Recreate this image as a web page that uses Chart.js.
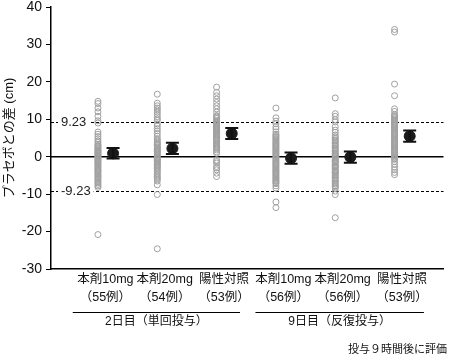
<!DOCTYPE html>
<html>
<head>
<meta charset="utf-8">
<script src="https://cdn.jsdelivr.net/npm/chart.js@4/dist/chart.umd.min.js"></script>
<style>
html,body{margin:0;padding:0;background:#fff;}
#wrap{width:450px;height:356px;position:relative;}
</style>
</head>
<body>
<div id="wrap"><canvas id="c"></canvas></div>
<script>
// ---- data ----
const categories = ['本剤10mg','本剤20mg','陽性対照','本剤10mg','本剤20mg','陽性対照'];
const counts = ['（55例）','（54例）','（53例）','（56例）','（56例）','（53例）'];
const groupLabels = ['2日目（単回投与）','9日目（反復投与）'];
const groupStart = [0.45, 3.53];
const groupEnd = [3.27, 6.37];
const footnote = '投与９時間後に評価';
const yTicks = [-30,-20,-10,0,10,20,30,40];
const refLines = [9.23, -9.23];
const refLabels = ['9.23', '-9.23'];

const g1 = [14.8,14.2,13.0,12.0,10.8,9.6,9.0,6.6,6.0,5.4,4.8,4.2,3.8,3.3,3.0,2.7,2.4,2.1,1.8,1.6,1.5,1.2,1.0,0.8,0.5,0.3,0.2,0.0,-0.2,-0.5,-0.8,-1.0,-1.3,-1.6,-1.9,-2.2,-2.5,-2.8,-3.1,-3.4,-3.7,-4.0,-4.3,-4.6,-5.0,-5.3,-5.6,-6.0,-6.3,-6.7,-7.0,-7.4,-7.8,-8.2,-20.8];
const g2 = [16.7,14.3,13.6,13.0,12.5,11.9,11.3,10.7,10.1,9.7,8.8,8.2,7.5,6.9,6.2,5.5,4.8,4.4,3.9,3.6,3.3,3.0,2.6,2.3,2.0,1.7,1.5,1.3,1.0,0.7,0.4,0.0,-0.3,-0.5,-0.7,-1.0,-1.3,-1.7,-2.0,-2.2,-2.5,-2.8,-3.1,-3.5,-3.9,-4.4,-4.8,-5.3,-5.6,-6.0,-6.5,-7.5,-10.1,-24.6];
const g3 = [18.6,17.2,16.3,15.4,14.5,13.6,12.8,11.9,11.0,10.8,10.4,10.2,9.7,9.4,9.2,9.0,8.7,8.4,8.1,7.9,7.7,7.4,7.2,7.0,6.8,6.5,6.3,6.0,5.9,5.7,5.4,5.1,4.9,4.7,4.4,4.1,3.7,3.4,3.1,2.8,2.5,2.2,1.8,1.3,0.9,-0.9,-1.3,-1.7,-2.6,-3.0,-3.5,-4.4,-5.3];
const g4 = [13.0,10.4,9.5,8.8,8.0,7.4,6.6,6.0,5.7,5.4,5.1,4.8,4.5,4.2,3.9,3.6,3.3,3.0,2.7,2.4,2.1,1.8,1.5,1.2,0.9,0.6,0.3,0.0,-0.3,-0.6,-0.9,-1.2,-1.5,-1.8,-2.1,-2.4,-2.7,-3.0,-3.3,-3.6,-3.9,-4.2,-4.5,-4.8,-5.1,-5.4,-5.7,-6.0,-6.3,-6.6,-6.9,-7.2,-7.8,-8.4,-12.1,-13.6];
const g5 = [15.7,11.5,10.8,9.9,9.3,8.0,7.1,6.5,5.8,5.3,4.9,4.5,4.2,3.8,3.5,3.1,2.8,2.4,2.1,1.7,1.4,1.0,0.7,0.5,0.3,0.0,-0.3,-0.7,-1.0,-1.2,-1.4,-1.7,-2.1,-2.4,-2.6,-2.8,-3.1,-3.5,-3.8,-4.0,-4.2,-4.5,-4.9,-5.2,-5.6,-5.9,-6.3,-6.6,-7.0,-7.3,-7.7,-8.0,-8.4,-9.2,-10.1,-16.3];
const g6 = [34.0,33.3,19.4,16.3,12.8,12.1,11.3,11.0,10.8,10.4,10.1,9.8,9.5,9.2,8.9,8.6,8.3,8.0,7.7,7.4,7.1,6.8,6.5,6.2,5.9,5.6,5.3,5.0,4.7,4.4,4.1,3.8,3.5,3.2,2.9,2.6,2.3,2.0,1.7,1.4,1.1,0.8,0.5,0.2,-0.1,-0.4,-0.7,-1.3,-2.0,-2.8,-3.5,-4.2,-4.8];
const groups = [g1,g2,g3,g4,g5,g6];
const means = [0.9, 2.2, 6.2, -0.4, -0.1, 5.5];
const se = [1.4, 1.5, 1.5, 1.5, 1.5, 1.5];

// ---- build datasets ----
const indivPts = [];
groups.forEach((g,i)=>g.forEach(v=>indivPts.push({x:i+1-0.125,y:v})));
const meanPts = means.map((m,i)=>({x:i+1+0.13,y:m}));

const FONT = "'Liberation Sans', 'Noto Sans CJK JP', sans-serif";

const overlay = {
  id:'overlay',
  beforeDatasetsDraw(chart){
    const {ctx, chartArea:a, scales:{x,y}} = chart;
    ctx.save();
    ctx.strokeStyle='#000'; ctx.lineWidth=1.5;
    const y0 = y.getPixelForValue(0);
    ctx.beginPath(); ctx.moveTo(a.left,y0); ctx.lineTo(a.right,y0); ctx.stroke();
    ctx.lineWidth=1; ctx.setLineDash([3,2]);
    refLines.forEach((v,i)=>{
      const py = Math.round(y.getPixelForValue(v))+0.5;
      ctx.beginPath(); ctx.moveTo(a.left,py); ctx.lineTo(a.right,py); ctx.stroke();
      ctx.font = "13px "+FONT;
      const w = ctx.measureText(refLabels[i]).width;
      const tx = a.left+10;
      ctx.fillStyle='#fff'; ctx.fillRect(tx-3,py-6,w+6,12);
      ctx.fillStyle='#222'; ctx.textBaseline='middle'; ctx.textAlign='left';
      ctx.fillText(refLabels[i],tx,py);
    });
    ctx.restore();
  },
  afterDatasetsDraw(chart){
    const {ctx, scales:{x,y}} = chart;
    ctx.save();
    ctx.strokeStyle='#111'; ctx.lineWidth=2;
    meanPts.forEach((p,i)=>{
      const px = x.getPixelForValue(p.x);
      const top = y.getPixelForValue(p.y+se[i]);
      const bot = y.getPixelForValue(p.y-se[i]);
      ctx.beginPath();
      ctx.moveTo(px,top); ctx.lineTo(px,bot);
      ctx.moveTo(px-6.5,top); ctx.lineTo(px+6.5,top);
      ctx.moveTo(px-6.5,bot); ctx.lineTo(px+6.5,bot);
      ctx.stroke();
    });
    ctx.restore();
  },
  afterDraw(chart){
    const {ctx, chartArea:a, scales:{x}} = chart;
    ctx.save();
    ctx.strokeStyle='#000'; ctx.lineWidth=1;
    ctx.fillStyle='#111';
    ctx.textAlign='center'; ctx.textBaseline='middle';
    ctx.font = "12px "+FONT;
    groupLabels.forEach((lab,i)=>{
      const x1 = x.getPixelForValue(groupStart[i]);
      const x2 = x.getPixelForValue(groupEnd[i]);
      const ly = a.bottom+43.5;
      ctx.beginPath(); ctx.moveTo(x1,ly); ctx.lineTo(x2,ly); ctx.stroke();
      ctx.fillText(lab,(x1+x2)/2,a.bottom+53);
    });
    ctx.font = "11px "+FONT;
    ctx.textAlign='right';
    ctx.fillText(footnote, chart.width-3, a.bottom+81);
    ctx.restore();
  }
};

new Chart(document.getElementById('c'), {
  type:'scatter',
  data:{
    datasets:[
      {data:indivPts, pointRadius:3, pointBorderWidth:1, borderColor:'#a0a0a0', backgroundColor:'rgba(255,255,255,0)', pointHoverRadius:3},
      {data:meanPts, pointRadius:5.5, borderColor:'#1a1a1a', backgroundColor:'#1a1a1a', pointHoverRadius:5.5}
    ]
  },
  options:{
    responsive:true, maintainAspectRatio:false, animation:false,
    layout:{padding:{left:0,right:2,top:0,bottom:0}},
    plugins:{legend:{display:false}, tooltip:{enabled:false}},
    events:[],
    scales:{
      x:{
        type:'linear', min:0.0833, max:6.7,
        grid:{display:false, drawTicks:false},
        border:{display:true, color:'#000', width:1.5},
        afterBuildTicks(s){ s.ticks = categories.map((c,i)=>({value:i+1})); },
        ticks:{
          autoSkip:false, maxRotation:0, padding:2, color:'#111',
          font:{family:FONT, size:12.5, lineHeight:1.4},
          callback:(v)=>{ const i=Math.round(v)-1; return [categories[i], counts[i]]; }
        },
        afterFit(s){ s.height = 87; }
      },
      y:{
        min:-30, max:40,
        afterBuildTicks(s){ s.ticks = yTicks.map(v=>({value:v})); },
        grid:{drawOnChartArea:false, drawTicks:true, tickLength:5, color:'#000', tickWidth:1},
        border:{display:true, color:'#000', width:1.5},
        ticks:{padding:4, color:'#111', font:{family:FONT, size:14}},
        title:{display:true, text:'プラセボとの差 (cm)', color:'#111', font:{family:FONT, size:13}, padding:{top:2,bottom:0}},
        afterFit(s){ s.width = 51; s.paddingTop = 7; s.paddingBottom = 0; }
      }
    }
  },
  plugins:[overlay]
});
</script>
</body>
</html>
